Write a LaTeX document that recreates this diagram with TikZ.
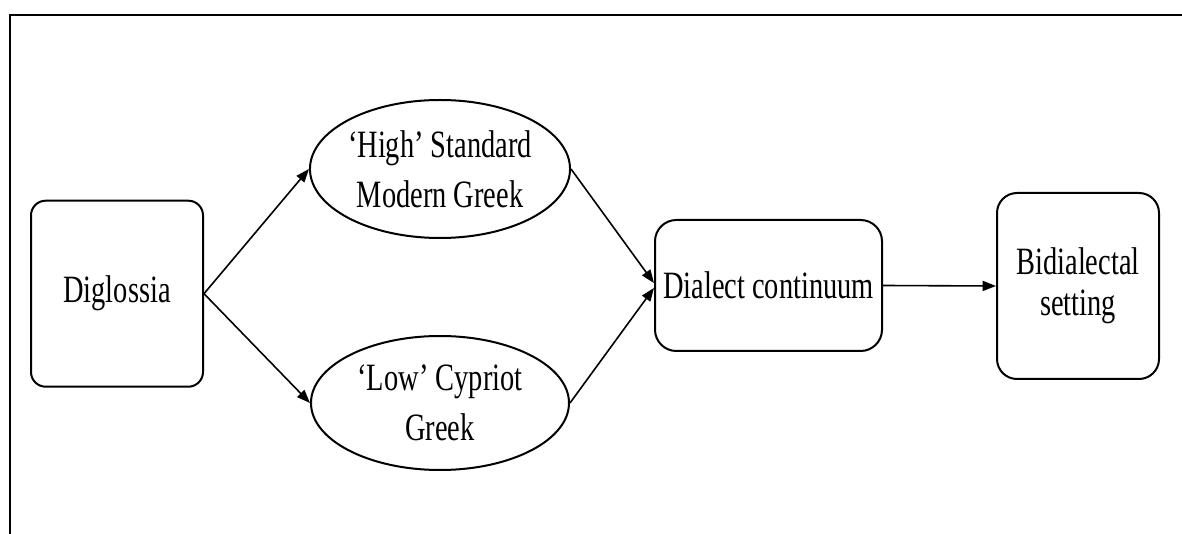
\documentclass[tikz,border=0pt]{standalone}
\usepackage{fontspec}
\setmainfont{Liberation Serif}[FakeStretch=0.735]
\usetikzlibrary{shapes.geometric,arrows.meta}
\begin{document}
\begin{tikzpicture}[x=0.75pt,y=-0.75pt,
  txt/.style={font=\fontsize{29}{37.5}\selectfont, align=center, inner sep=0pt},
  rbox/.style={txt, draw, line width=1.5pt, rounded corners=#1},
  oval/.style={txt, draw, ellipse, line width=1.5pt},
  conn/.style={line width=1.2pt, -{Triangle[length=10pt,width=7.5pt]}},
  frameline/.style={line width=1.8pt}]
\useasboundingbox (0,0) rectangle (1182,534);
\coordinate (ftr) at (1182,15);
\coordinate (ftl) at (10,15);
\coordinate (fbl) at (10,534);
\draw[frameline] (ftr) -- (ftl) -- (fbl);
\node[rbox=11pt, minimum width=129pt, minimum height=139.5pt] (dig) at (117,293.7) {Diglossia};
\node[oval, minimum width=193.5pt, minimum height=103.5pt] (high) at (440,169) {‘High’ Standard\\Modern Greek};
\node[oval, minimum width=193.5pt, minimum height=100.5pt] (low) at (440,403) {‘Low’ Cypriot\\Greek};
\node[rbox=16pt, minimum width=170.25pt, minimum height=98.25pt] (dc) at (768.5,285.5) {Dialect continuum};
\node[rbox=15pt, minimum width=121.5pt, minimum height=139.5pt, font=\fontsize{29}{30.75}\selectfont] (bid) at (1078,286) {Bidialectal\\setting};
\draw[conn] (dig.east) -- (high.west);
\draw[conn] (dig.east) -- (low.west);
\draw[conn] (high.east) -- ([yshift=1.8pt]dc.west);
\draw[conn] (low.east) -- ([yshift=-1.8pt]dc.west);
\draw[conn] (dc.east) -- (bid.west);
\end{tikzpicture}
\end{document}
